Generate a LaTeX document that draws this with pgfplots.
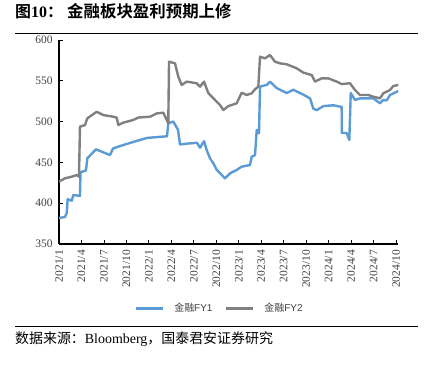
\documentclass[border=0pt]{standalone}
\usepackage{fontspec}
\setmainfont{Liberation Serif}
\newfontfamily\sans{Liberation Sans}
\newfontfamily\cjk{Noto Sans CJK SC}
\newfontfamily\cjkb{Noto Sans CJK SC Bold}
\usepackage{pgfplots}
\pgfplotsset{compat=1.18}
\definecolor{fyblue}{HTML}{5B9BD5}
\definecolor{fygray}{HTML}{808080}
\definecolor{txt}{HTML}{404040}
\begin{document}
\begin{tikzpicture}
\useasboundingbox (-59bp,-122bp) rectangle (376bp,244bp);
\begin{axis}[
  at={(0,0)}, anchor=origin,
  scale only axis, width=339.3bp, height=204bp,
  xmin=0, xmax=45.3, ymin=350, ymax=600,
  axis x line*=bottom, axis y line*=left,
  axis line style={line width=1.1bp, black},
  tick align=inside, major tick length=4bp,
  tick style={black, line width=0.8bp},
  xtick={0,3,...,45},
  xticklabels={2021/1,2021/4,2021/7,2021/10,2022/1,2022/4,2022/7,2022/10,2023/1,2023/4,2023/7,2023/10,2024/1,2024/4,2024/7,2024/10},
  xticklabel shift=5bp,
  x tick label style={rotate=90, anchor=east, font=\fontsize{11.5}{13}\selectfont, text=txt, inner sep=1bp},
  ytick={350,400,...,600},
  yticklabel shift=3bp,
  y tick label style={font=\fontsize{11.5}{13}\selectfont, text=txt},
  /pgf/number format/assume math mode=true,
  legend columns=2,
  legend style={at={(rel axis cs:0.473,-0.314)}, anchor=center, draw=none, fill=none,
    font=\cjk\fontsize{10}{12}\selectfont, text=txt, column sep=8bp,
    /tikz/every even column/.append style={column sep=10bp}},
  legend image code/.code={\draw[#1, line width=3bp] (0bp,0bp) -- (27bp,0bp);},
]
\addplot[fyblue, line width=2.4bp, line join=round] coordinates {
(0,382)(0.80,383)(1.03,388)(1.16,405)(1.70,403)(1.91,410)(2.80,409)(2.87,438)
(3.60,440)(3.78,455)(4.94,466)(6.81,459)(7.21,467)(8.14,470)(9.88,475)(11.75,480)
(13.08,481)(14.42,482)(14.59,498)(15.26,500)(15.89,490)(16.15,472)(17.09,473)
(18.42,474)(18.83,468)(19.36,476)(19.72,465)(20.16,455)(20.60,449)(21.05,441)
(22.16,430.5)(22.83,436.6)(23.72,440.7)(24.39,444.8)(25.50,446.8)(25.73,457)
(26.17,459)(26.40,489.7)(26.70,485.6)(26.84,542.8)(27.73,545)(28.17,549)
(29.07,541)(30.40,535)(31.28,539)(32.62,533)(33.51,528.5)(33.95,516)(34.41,514)
(35.29,519)(36.62,520)(37.74,518)(37.76,486)(38.41,486)(38.76,477.5)(38.95,535)
(39.52,526.5)(40.19,528.5)(41.96,528.5)(42.86,522.4)(43.26,526.5)(43.75,526)
(44.19,532.6)(45.30,537.5)
};
\addlegendentry{金融{\sans FY1}}
\addplot[fygray, line width=2.4bp, line join=round] coordinates {
(0,426.4)(0.80,430.5)(1.70,432.5)(2.36,434.5)(2.67,432.5)(2.80,493.8)(3.47,495.8)
(3.78,504)(5.03,512)(5.91,508)(7.25,506)(7.70,504.8)(7.92,495.8)(8.58,498.7)
(9.92,502)(10.59,505)(12.15,506)(13.04,510)(13.92,511)(14.59,498)(14.69,573.4)
(15.49,571.4)(15.93,555)(16.38,544.9)(17.05,549)(18.38,547)(18.83,542.8)(19.36,549)
(19.93,535)(20.83,526.5)(21.50,520.3)(21.94,514.2)(22.60,519)(23.72,522.4)
(24.39,535.4)(25.06,532.6)(25.73,534.7)(26.17,539.6)(26.61,542.8)(26.84,579.5)
(27.50,577.5)(28.17,581.6)(28.84,573.4)(29.51,571.4)(30.40,570.2)(31.74,565.3)
(32.62,560)(33.74,557.1)(34.18,549)(35.07,553)(35.95,553)(37.08,549)(37.74,546)
(38.85,547)(39.52,538.7)(40.19,532.6)(41.30,532.6)(41.96,530.5)(42.86,528.5)
(43.30,534.7)(44.19,538.7)(44.63,543.6)(45.30,544.9)
};
\addlegendentry{金融{\sans FY2}}
\end{axis}
% title and source
\node[anchor=base west, inner sep=0pt] at (-44bp,226bp) {\cjkb\fontsize{16}{18}\selectfont 图{\rmfamily\bfseries 10}：};
\node[anchor=base west, inner sep=0pt] at (8bp,226bp) {\cjkb\fontsize{16.5}{18}\selectfont 金融板块盈利预期上修};
\draw[line width=0.8bp] (-44bp,211bp) -- (359bp,211bp);
\draw[line width=0.8bp] (-44bp,-82.7bp) -- (359bp,-82.7bp);
\node[anchor=base west, inner sep=0pt] at (-44bp,-99bp) {\cjk\fontsize{14}{16}\selectfont 数据来源：{\rmfamily Bloomberg}，国泰君安证券研究};
\end{tikzpicture}
\end{document}
